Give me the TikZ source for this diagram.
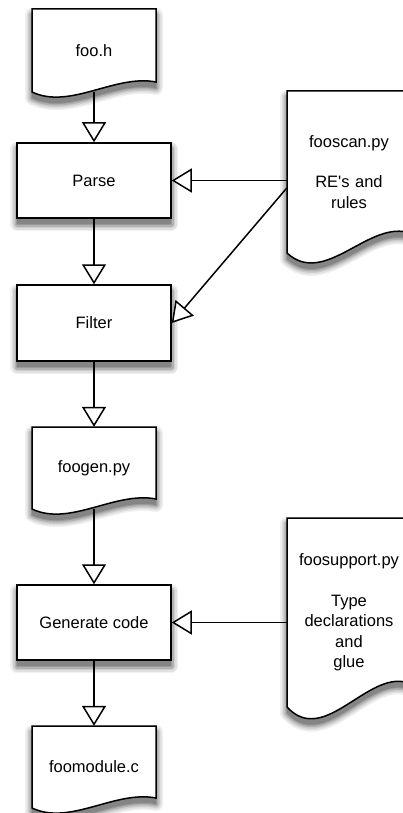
\documentclass[tikz,border=0pt]{standalone}
\usepackage{fontspec}
\setmainfont[Ligatures=TeXOff]{Liberation Sans}
\usetikzlibrary{arrows.meta,calc}
% #1 options, #2 cx, #3 cy, #4 height, #5 wave scale, #6 vertical offset
\newcommand\docpath[6]{%
  \path[#1] (#2-62, #3-#4/2+#6) -- (#2+62, #3-#4/2+#6) -- (#2+62, #3+#4/2-10*#5+#6)
    .. controls (#2+21, #3+#4/2-18*#5+#6) and (#2-24, #3+#4/2+18*#5+#6) .. (#2-62, #3+#4/2+#6) -- cycle;}
% #1 name, #2 cx, #3 cy, #4 height, #5 wave scale, #6 text
\newcommand\docat[6]{%
  \foreach \w/\k in {14/6,11/12,8/20,5/30,2/40}{\docpath{draw=black!\k, line width=\w pt, line join=round}{#2}{#3}{#4}{#5}{6}}
  \docpath{fill=black!48}{#2}{#3}{#4}{#5}{6}
  \docpath{draw, line width=1.5pt, fill=white}{#2}{#3}{#4}{#5}{0}
  \node[docnode, minimum height=#4 pt] (#1) at (#2,#3) {#6};}
% #1 name, #2 cx, #3 cy, #4 height, #5 text
\newcommand\boxat[5]{%
  \foreach \w/\k in {14/6,11/12,8/20,5/30,2/40}{\path[draw=black!\k, line width=\w pt, line join=round] (#2-77, #3-#4/2+6) rectangle (#2+77, #3+#4/2+6);}
  \path[fill=black!48] (#2-77, #3-#4/2+6) rectangle (#2+77, #3+#4/2+6);
  \node[proc, minimum height=#4 pt] (#1) at (#2,#3) {#5};}
\begin{document}
\begin{tikzpicture}[x=1pt,y=-1pt,
  every node/.style={font=\fontsize{16.5}{20.5}\selectfont},
  proc/.style={draw, line width=1.5pt, fill=white, minimum width=154pt, inner sep=0pt},
  docnode/.style={inner sep=0pt, minimum width=124pt, text width=124pt, align=center},
  conn/.style={line width=1.5pt, -{Triangle[open,length=20pt,width=24pt,fill=white]}}
]
\path[use as bounding box] (0,0) rectangle (403,813);
\begin{scope}
\clip (0,0) rectangle (403,813);

% process boxes
\boxat{parse}{94}{180.5}{75}{Parse}
\boxat{filter}{94}{323}{76}{Filter}
\boxat{gen}{94}{622.5}{75}{Generate code}

% documents
\docat{fooh}{94}{50.5}{83}{1}{foo.h}
\docat{foogen}{94}{468}{82}{1}{foogen.py}
\docat{foomod}{94}{767}{82}{1}{foomodule.c}
\docat{fooscan}{349}{172}{162}{1.95}{fooscan.py\\[20pt]RE's and\\rules}
\docat{foosup}{349}{612.5}{189}{2.3}{foosupport.py\\[20pt]Type\\declarations\\and\\glue}

% connectors
\draw[conn] (fooh.south) -- (parse.north);
\draw[conn] (parse.south) -- (filter.north);
\draw[conn] (filter.south) -- (foogen.north);
\draw[conn] (foogen.south) -- (gen.north);
\draw[conn] (gen.south) -- (foomod.north);
\draw[conn] (fooscan.west |- parse.east) -- (parse.east);
\draw[conn] ($(fooscan.west)+(0,16)$) -- (filter.east);
\draw[conn] (foosup.west |- gen.east) -- (gen.east);
\end{scope}
\end{tikzpicture}
\end{document}
